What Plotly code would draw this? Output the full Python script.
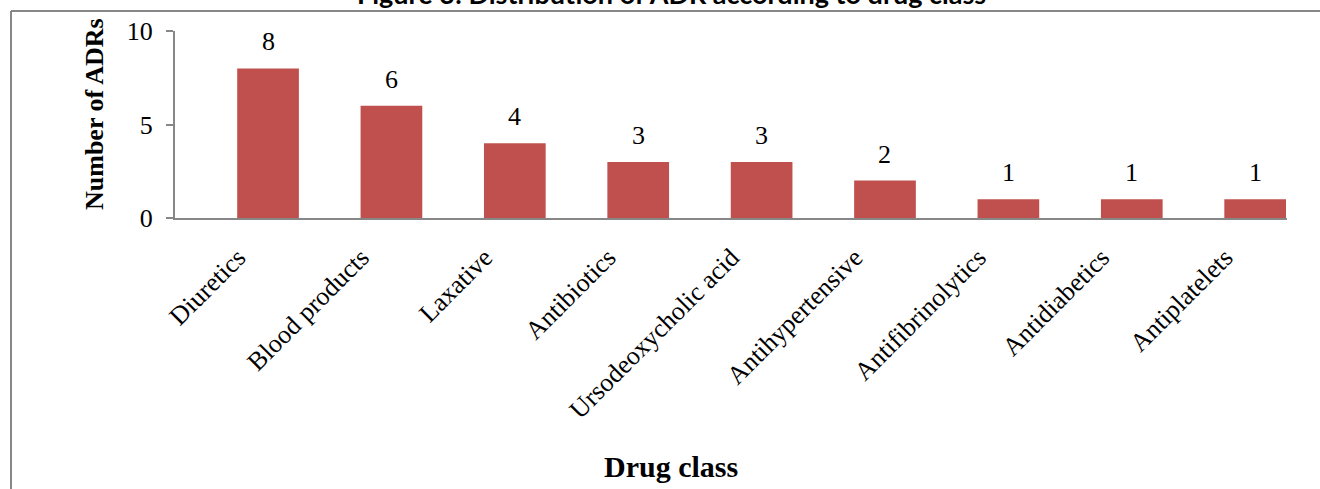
import plotly.graph_objects as go

categories = ["Diuretics", "Blood products", "Laxative", "Antibiotics",
              "Ursodeoxycholic acid", "Antihypertensive", "Antifibrinolytics",
              "Antidiabetics", "Antiplatelets"]
adr_counts = [8, 6, 4, 3, 3, 2, 1, 1, 1]
y_ticks = [0, 5, 10]

W, H = 1320, 489
L, R, T, B = 175, 1287, 31, 218  # plot area pixel bounds
PW, PH = R - L, B - T

def px(x):
    return (x - L) / PW

def py(y):
    return (B - y) / PH

serif = "Liberation Serif, Times New Roman, serif"
grey = "#878787"

fig = go.Figure()
fig.add_trace(go.Bar(
    x=categories, y=adr_counts,
    marker=dict(color="#C0504D", line=dict(width=0)),
    width=0.5, showlegend=False, hoverinfo="x+y",
))

annotations = []
for c, v in zip(categories, adr_counts):
    annotations.append(dict(x=c, y=v, xref="x", yref="y", text=str(v),
                            showarrow=False, yanchor="bottom", yshift=10,
                            font=dict(family=serif, size=26, color="black")))

annotations.append(dict(x=px(671), y=py(485), xref="paper", yref="paper",
                        text="<b>Drug class</b>", showarrow=False,
                        xanchor="center", yanchor="bottom",
                        font=dict(family=serif, size=30, color="black")))
annotations.append(dict(x=px(94), y=py(114), xref="paper", yref="paper",
                        text="<b>Number of ADRs</b>", showarrow=False, textangle=-90,
                        xanchor="center", yanchor="middle",
                        font=dict(family=serif, size=26, color="black")))
annotations.append(dict(x=px(671), y=py(12), xref="paper", yref="paper",
                        text="<b>Figure 3: Distribution of ADR according to drug class</b>",
                        showarrow=False, xanchor="center", yanchor="bottom",
                        font=dict(family="Lato, Open Sans, sans-serif", size=27, color="black")))

shapes = [
    dict(type="line", xref="paper", yref="paper", x0=px(11), x1=px(1330),
         y0=py(11), y1=py(11), line=dict(color=grey, width=2), layer="below"),
    dict(type="line", xref="paper", yref="paper", x0=px(11), x1=px(11),
         y0=py(11), y1=py(500), line=dict(color=grey, width=2), layer="below"),
]

fig.update_layout(
    width=W, height=H,
    margin=dict(l=L, r=W - R, t=T, b=H - B, pad=0),
    plot_bgcolor="white", paper_bgcolor="white",
    bargap=0.5,
    annotations=annotations, shapes=shapes,
)
fig.update_xaxes(
    range=[-0.754, 8.258], showgrid=False, zeroline=False,
    showline=True, linecolor=grey, linewidth=2,
    ticks="", tickangle=-45,
    ticklabelstandoff=12, ticklabelshift=-30,
    tickfont=dict(family=serif, size=26, color="black"),
)
fig.update_yaxes(
    range=[0, 10], tickvals=y_ticks, showgrid=False, zeroline=False,
    showline=True, linecolor=grey, linewidth=2,
    ticks="outside", ticklen=7, tickcolor=grey, tickwidth=2,
    ticklabelstandoff=8,
    tickfont=dict(family=serif, size=26, color="black"),
)

fig.write_html("out.html")
